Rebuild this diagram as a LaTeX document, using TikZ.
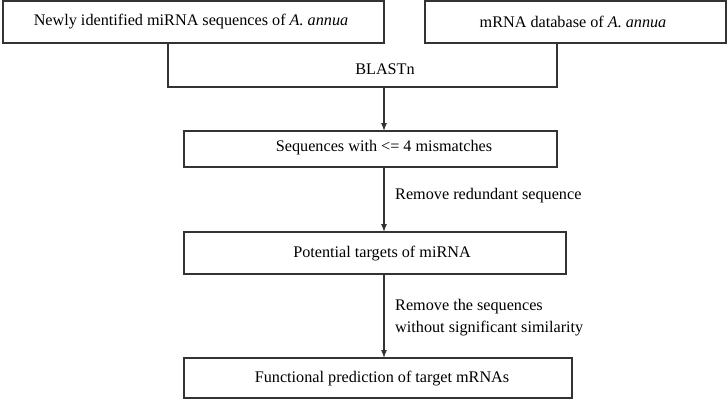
\documentclass[tikz,border=0pt]{standalone}
\usepackage{fontspec}
\setmainfont{Liberation Serif}
\usetikzlibrary{arrows.meta}
\definecolor{ln}{HTML}{333333}
\begin{document}
\begin{tikzpicture}[x=1pt,y=-1pt,
  boxnode/.style={draw=ln,line width=1.2pt,inner sep=0pt,outer sep=0pt},
  lbl/.style={font=\fontsize{16.2}{22}\selectfont,inner sep=0pt,text=black},
  arr/.style={draw=ln,line width=1.1pt,-{Latex[length=8pt,width=6pt]}},
  uline/.style={draw=ln,line width=1.2pt}]
\useasboundingbox (0,0) rectangle (728,400);
% top boxes
\node[boxnode,minimum width=381pt,minimum height=42pt] (src1) at (193.5,22) {};
\node[lbl] (src1t) at (191,22) {Newly identified miRNA sequences of \textit{A. annua}};
\node[boxnode,minimum width=301pt,minimum height=42pt] (src2) at (575.5,22) {};
\node[lbl] (src2t) at (573,22) {mRNA database of \textit{A. annua}};
% BLASTn open box
\node[inner sep=0pt,outer sep=0pt,minimum width=389pt,minimum height=44pt] (blast) at (362.5,65) {};
\draw[uline] (blast.north west) -- (blast.south west) -- (blast.south east) -- (blast.north east);
\node[lbl] (blastt) at (385,69) {BLASTn};
\coordinate (bbot) at (384,87);
% box 2
\node[boxnode,minimum width=373pt,minimum height=36pt] (mis) at (370.5,149) {};
\node[lbl] (mist) at (384,148) {Sequences with <= 4 mismatches};
% box 3
\node[boxnode,minimum width=382pt,minimum height=42pt] (pot) at (375,253) {};
\node[lbl] (pott) at (382,254) {Potential targets of miRNA};
% box 4
\node[boxnode,minimum width=388pt,minimum height=40pt] (fun) at (378,378) {};
\node[lbl] (funt) at (382,379) {Functional prediction of target mRNAs};
% arrows
\draw[arr] (bbot) -- (mis.north -| bbot);
\draw[arr] (mis.south -| bbot) -- (pot.north -| bbot);
\draw[arr] (pot.south -| bbot) -- (fun.north -| bbot);
% labels
\node[lbl,anchor=west] (rm1) at (395,196) {Remove redundant sequence};
\node[lbl,anchor=west,align=left] (rm2) at (395,317.5) {Remove the sequences\\without significant similarity};
\end{tikzpicture}
\end{document}
